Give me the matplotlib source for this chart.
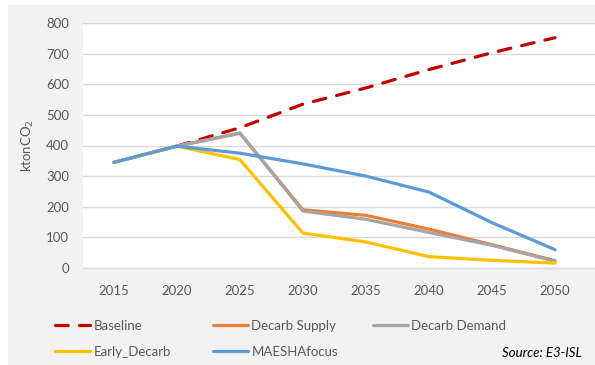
import numpy as np
import matplotlib
matplotlib.use("Agg")
import matplotlib.pyplot as plt
from matplotlib.patches import Rectangle
from matplotlib.lines import Line2D

# Emissions per scenario (ktonCO2)
years = ["2015", "2020", "2025", "2030", "2035", "2040", "2045", "2050"]
baseline = [np.nan, 398, 458, 535, 588, 648, 703, 752]
decarb_supply = [345, 398, 440, 190, 172, 127, 76, 24]
decarb_demand = [345, 398, 441, 186, 159, 116, 74, 22]
early_decarb = [345, 398, 354, 114, 85, 37, 25, 16]
maesha_focus = [345, 398, 375, 340, 300, 248, 148, 60]

series = [
    ("Baseline", baseline, "#C00000", (0, (4, 3.5))),
    ("Decarb Supply", decarb_supply, "#ED7D31", "-"),
    ("Decarb Demand", decarb_demand, "#A5A5A5", "-"),
    ("Early_Decarb", early_decarb, "#FFC000", "-"),
    ("MAESHAfocus", maesha_focus, "#5B9BD5", "-"),
]

plt.rcParams["font.family"] = ["Lato", "DejaVu Sans"]
text_grey = "#595959"
grid_grey = "#D9D9D9"
W, H = 595, 365

fig = plt.figure(figsize=(W / 100, H / 100), dpi=100)
fig.patch.set_facecolor("white")
# chart area background
fig.add_artist(Rectangle((8 / W, 0), 1 - 8 / W, (H - 5) / H, transform=fig.transFigure,
                         facecolor="#F2F2F2", edgecolor="none", zorder=0))

ax = fig.add_axes([83 / W, 1 - 268 / H, (W - 83) / W, (268 - 23) / H])
ax.set_facecolor("white")

x = np.arange(len(years))
handles = {}
for name, vals, color, ls in series:
    (ln,) = ax.plot(x, vals, color=color, lw=2.3, linestyle=ls,
                    solid_capstyle="round", dash_capstyle="round",
                    solid_joinstyle="round", label=name, zorder=3)
    handles[name] = ln

ax.set_ylim(0, 800)
ax.set_yticks(np.arange(0, 801, 100))
ax.set_xlim(-0.49, 7.635)
ax.set_xticks(x)
ax.set_xticklabels(years)
ax.grid(axis="y", color=grid_grey, lw=1.0, zorder=1)
ax.set_axisbelow(True)
for s in ["top", "right", "left"]:
    ax.spines[s].set_visible(False)
ax.spines["bottom"].set_color(grid_grey)
ax.spines["bottom"].set_linewidth(1.0)
ax.tick_params(axis="both", length=0, colors=text_grey, labelsize=9.5)
ax.tick_params(axis="y", pad=10)
ax.tick_params(axis="x", pad=12)

ax.set_ylabel("ktonCO$_2$", color=text_grey, fontsize=9.5, labelpad=8)
ax.yaxis.set_label_coords(-0.092, 0.5)

# legend entries laid out in two rows of three columns
legend_pos = {
    "Baseline": (55, 326),
    "Decarb Supply": (213, 326),
    "Decarb Demand": (373, 326),
    "Early_Decarb": (55, 352),
    "MAESHAfocus": (213, 352),
}
for name, (px, py) in legend_pos.items():
    h = handles[name]
    proxy = Line2D([], [], color=h.get_color(), lw=2.3, linestyle=h.get_linestyle(),
                   dash_capstyle="round", solid_capstyle="round")
    if name == "Baseline":
        proxy.set_dashes((4, 3.5))
    fig.legend([proxy], [name], loc="center left",
               bbox_to_anchor=(px / W, 1 - py / H), frameon=False,
               handlelength=2.65, handletextpad=0.25, borderpad=0,
               borderaxespad=0, fontsize=9.5, labelcolor=text_grey)

fig.text(582 / W, 1 - 353 / H, "Source: E3-ISL", ha="right", va="center",
         fontsize=9.5, style="italic", color="black")

fig.savefig("out.png", dpi=100)
